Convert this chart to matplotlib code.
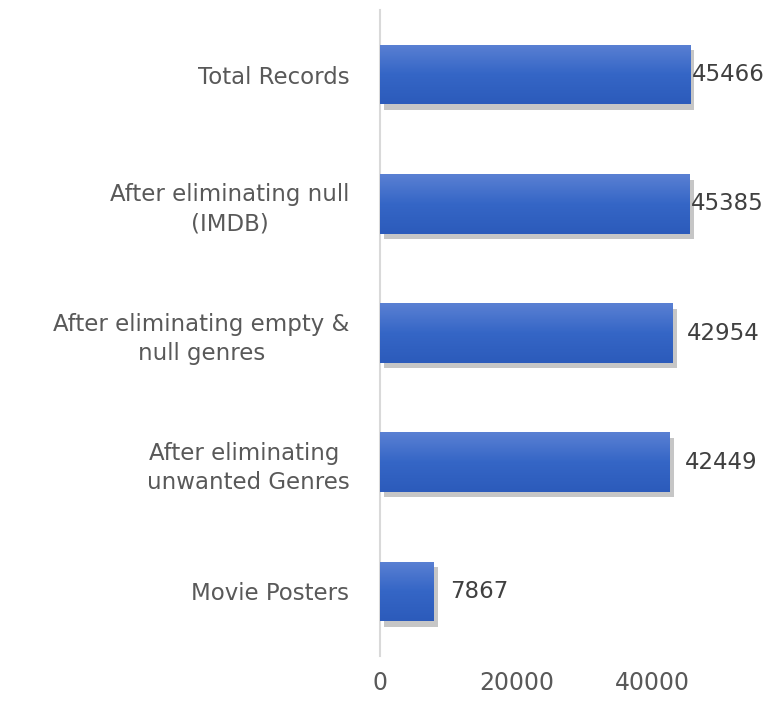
import matplotlib
matplotlib.use("Agg")
import matplotlib.pyplot as plt
import matplotlib.patheffects as pe
import numpy as np
from matplotlib.colors import LinearSegmentedColormap

categories = ["Total Records", "After eliminating null\n(IMDB)",
              "After eliminating empty &\nnull genres",
              "After eliminating \nunwanted Genres", "Movie Posters"]
values = [45466, 45385, 42954, 42449, 7867]
xticks = [0, 20000, 40000]
label_pads = [1, 1, 10, 11, 12]

plt.rcParams['font.family'] = ['DejaVu Sans']

fig = plt.figure(figsize=(7.72, 7.03), dpi=100)
ax = fig.add_axes([380/772, 47/703, 341/772, 646/703])

y = np.arange(len(categories))
bars = ax.barh(y, values, height=0.46, color='#3F6BCB', zorder=2,
               path_effects=[pe.SimplePatchShadow(offset=(3, -4), shadow_rgbFace='#a0a0a0', alpha=0.6), pe.Normal()])

cmap = LinearSegmentedColormap.from_list('g', ['#5A80D3', '#3566C6', '#2C5BBB'])
grad = np.linspace(0, 1, 100).reshape(-1, 1)
for b in bars:
    x0, y0 = b.get_x(), b.get_y()
    w, h = b.get_width(), b.get_height()
    im = ax.imshow(grad, cmap=cmap, aspect='auto', extent=(x0, x0 + w, y0 + h, y0),
                   zorder=3, interpolation='bilinear')
    im.set_clip_path(b)
ax.set_xlim(0, 50000)
ax.set_ylim(len(categories) - 0.5, -0.5)

for b, v, p in zip(bars, values, label_pads):
    ax.annotate(str(v), xy=(b.get_x() + b.get_width(), b.get_y() + b.get_height() / 2),
                xytext=(p, 0), textcoords='offset points', ha='left', va='center',
                fontsize=16.5, color='#404040', zorder=4)

ax.set_yticks(y)
ax.set_yticklabels(categories, fontsize=16.5, color='#595959', multialignment='center',
                   linespacing=1.35)
ax.set_xticks(xticks)
ax.set_xticklabels([str(t) for t in xticks], fontsize=17, color='#595959')
ax.tick_params(axis='both', length=0)
ax.tick_params(axis='x', pad=11)
ax.tick_params(axis='y', pad=22)
for s in ['top', 'right', 'bottom']:
    ax.spines[s].set_visible(False)
ax.spines['left'].set_color('#D9D9D9')
ax.spines['left'].set_linewidth(1.5)

fig.savefig('out.png', dpi=100, facecolor='white')
